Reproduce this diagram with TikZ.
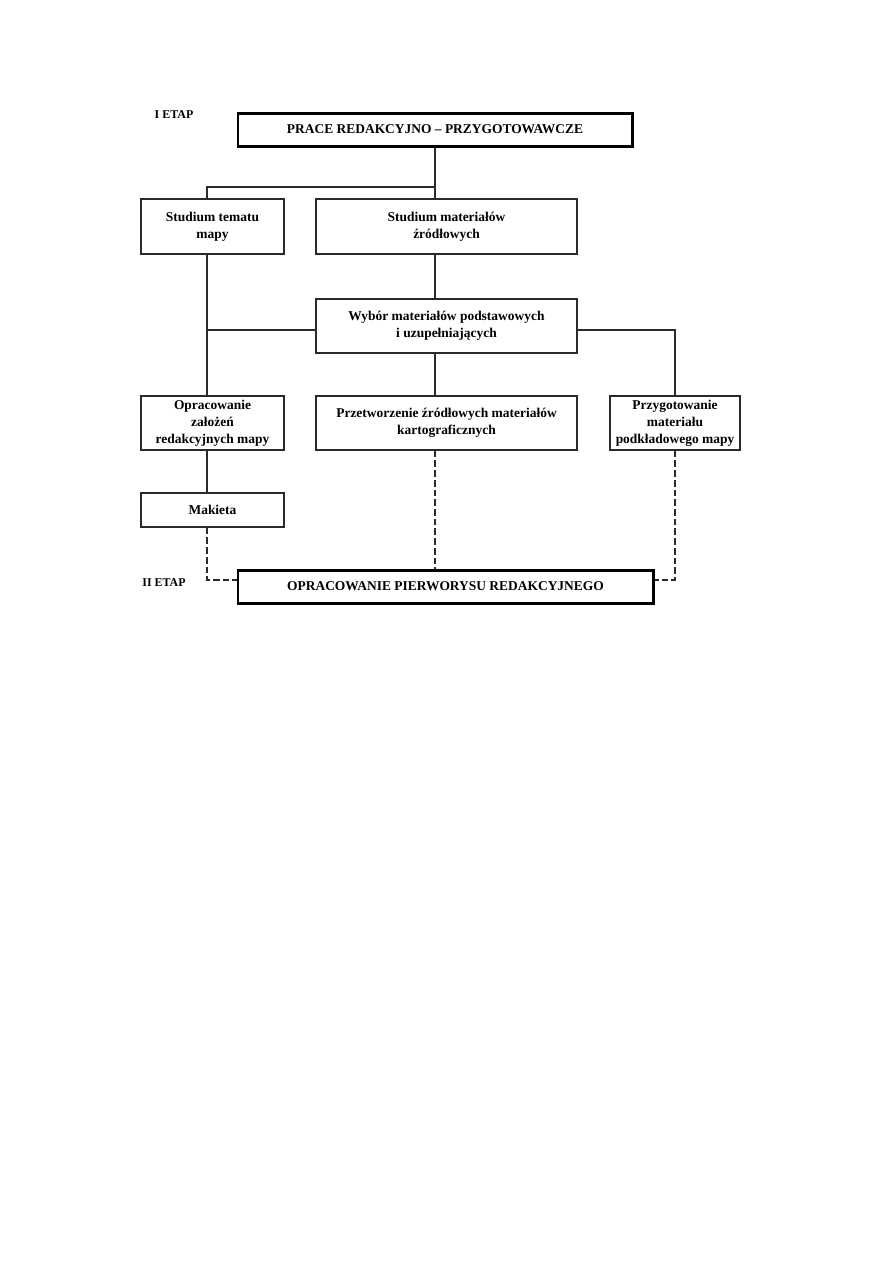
\documentclass[tikz,border=0pt]{standalone}
\usepackage{fontspec}
\setmainfont{Liberation Serif}
\definecolor{liniagray}{HTML}{2B2B2B}
\def\pxu{0.02351cm}
\tikzset{
  etapbox/.style={draw=black,line width=2pt,inner sep=0pt,align=center},
  krokbox/.style={draw=liniagray,line width=1pt,inner sep=0pt,align=center},
  polacz/.style={draw=liniagray,line width=1.2pt},
  polaczdash/.style={polacz,dashed,dash pattern=on 4.5pt off 2pt}
}

\begin{document}
\begin{tikzpicture}[x=\pxu,y=-\pxu,font=\fontsize{9}{11.3}\selectfont\bfseries]
\useasboundingbox (0,0) rectangle (893,1263);
\fill[white] (0,0) rectangle (893,1263);
\coordinate (osL) at (207,0);
\coordinate (osS) at (435,0);
\coordinate (rozw) at (207,187);
\coordinate (poziom) at (0,330);
\coordinate (dolny) at (0,580);
\node[font=\fontsize{8}{9}\selectfont\bfseries] (etapI) at (174,115) {I ETAP};
\node[font=\fontsize{8}{9}\selectfont\bfseries] (etapII) at (164,583) {II ETAP};
\node[etapbox,minimum width={394*\pxu},minimum height={33*\pxu}] (prace) at (435,129.5) {PRACE REDAKCYJNO -- PRZYGOTOWAWCZE};
\node[krokbox,minimum width={143*\pxu},minimum height={55*\pxu}] (temat) at (212.5,226.5) {Studium tematu\\mapy};
\node[krokbox,minimum width={261*\pxu},minimum height={55*\pxu}] (zrodla) at (446.5,226.5) {Studium materiałów\\źródłowych};
\node[krokbox,minimum width={261*\pxu},minimum height={54*\pxu}] (wybor) at (446.5,326) {Wybór materiałów podstawowych\\i uzupełniających};
\node[krokbox,minimum width={143*\pxu},minimum height={54*\pxu}] (zalozenia) at (212.5,423) {Opracowanie\\założeń\\redakcyjnych mapy};
\node[krokbox,minimum width={261*\pxu},minimum height={54*\pxu}] (przetw) at (446.5,423) {Przetworzenie źródłowych materiałów\\kartograficznych};
\node[krokbox,minimum width={130*\pxu},minimum height={54*\pxu}] (podklad) at (675,423) {Przygotowanie\\materiału\\podkładowego mapy};
\node[krokbox,minimum width={143*\pxu},minimum height={34*\pxu}] (makieta) at (212.5,510) {Makieta};
\node[etapbox,minimum width={415*\pxu},minimum height={33*\pxu}] (pierworys) at (445.5,586.5) {OPRACOWANIE PIERWORYSU REDAKCYJNEGO};
\draw[polacz] (prace.south) -- (prace.south |- zrodla.north);
\draw[polacz] (prace.south |- rozw) -- (rozw) -- (rozw |- temat.north);
\draw[polacz] (zrodla.south -| osS) -- (wybor.north -| osS);
\draw[polacz] (temat.south -| osL) -- (zalozenia.north -| osL);
\draw[polacz] (wybor.west |- poziom) -- (osL |- poziom);
\draw[polacz] (wybor.east |- poziom) -| (podklad.north);
\draw[polacz] (wybor.south -| osS) -- (przetw.north -| osS);
\draw[polacz] (zalozenia.south -| osL) -- (makieta.north -| osL);
\draw[polaczdash,line width=1pt] (makieta.south -| osL) -- (osL |- dolny) -- (pierworys.west |- dolny);
\draw[polaczdash,line width=1.4pt] (przetw.south -| osS) -- (pierworys.north -| osS);
\draw[polaczdash,line width=1.4pt] (podklad.south) -- (podklad.south |- dolny) -- (pierworys.east |- dolny);
\end{tikzpicture}
\end{document}
